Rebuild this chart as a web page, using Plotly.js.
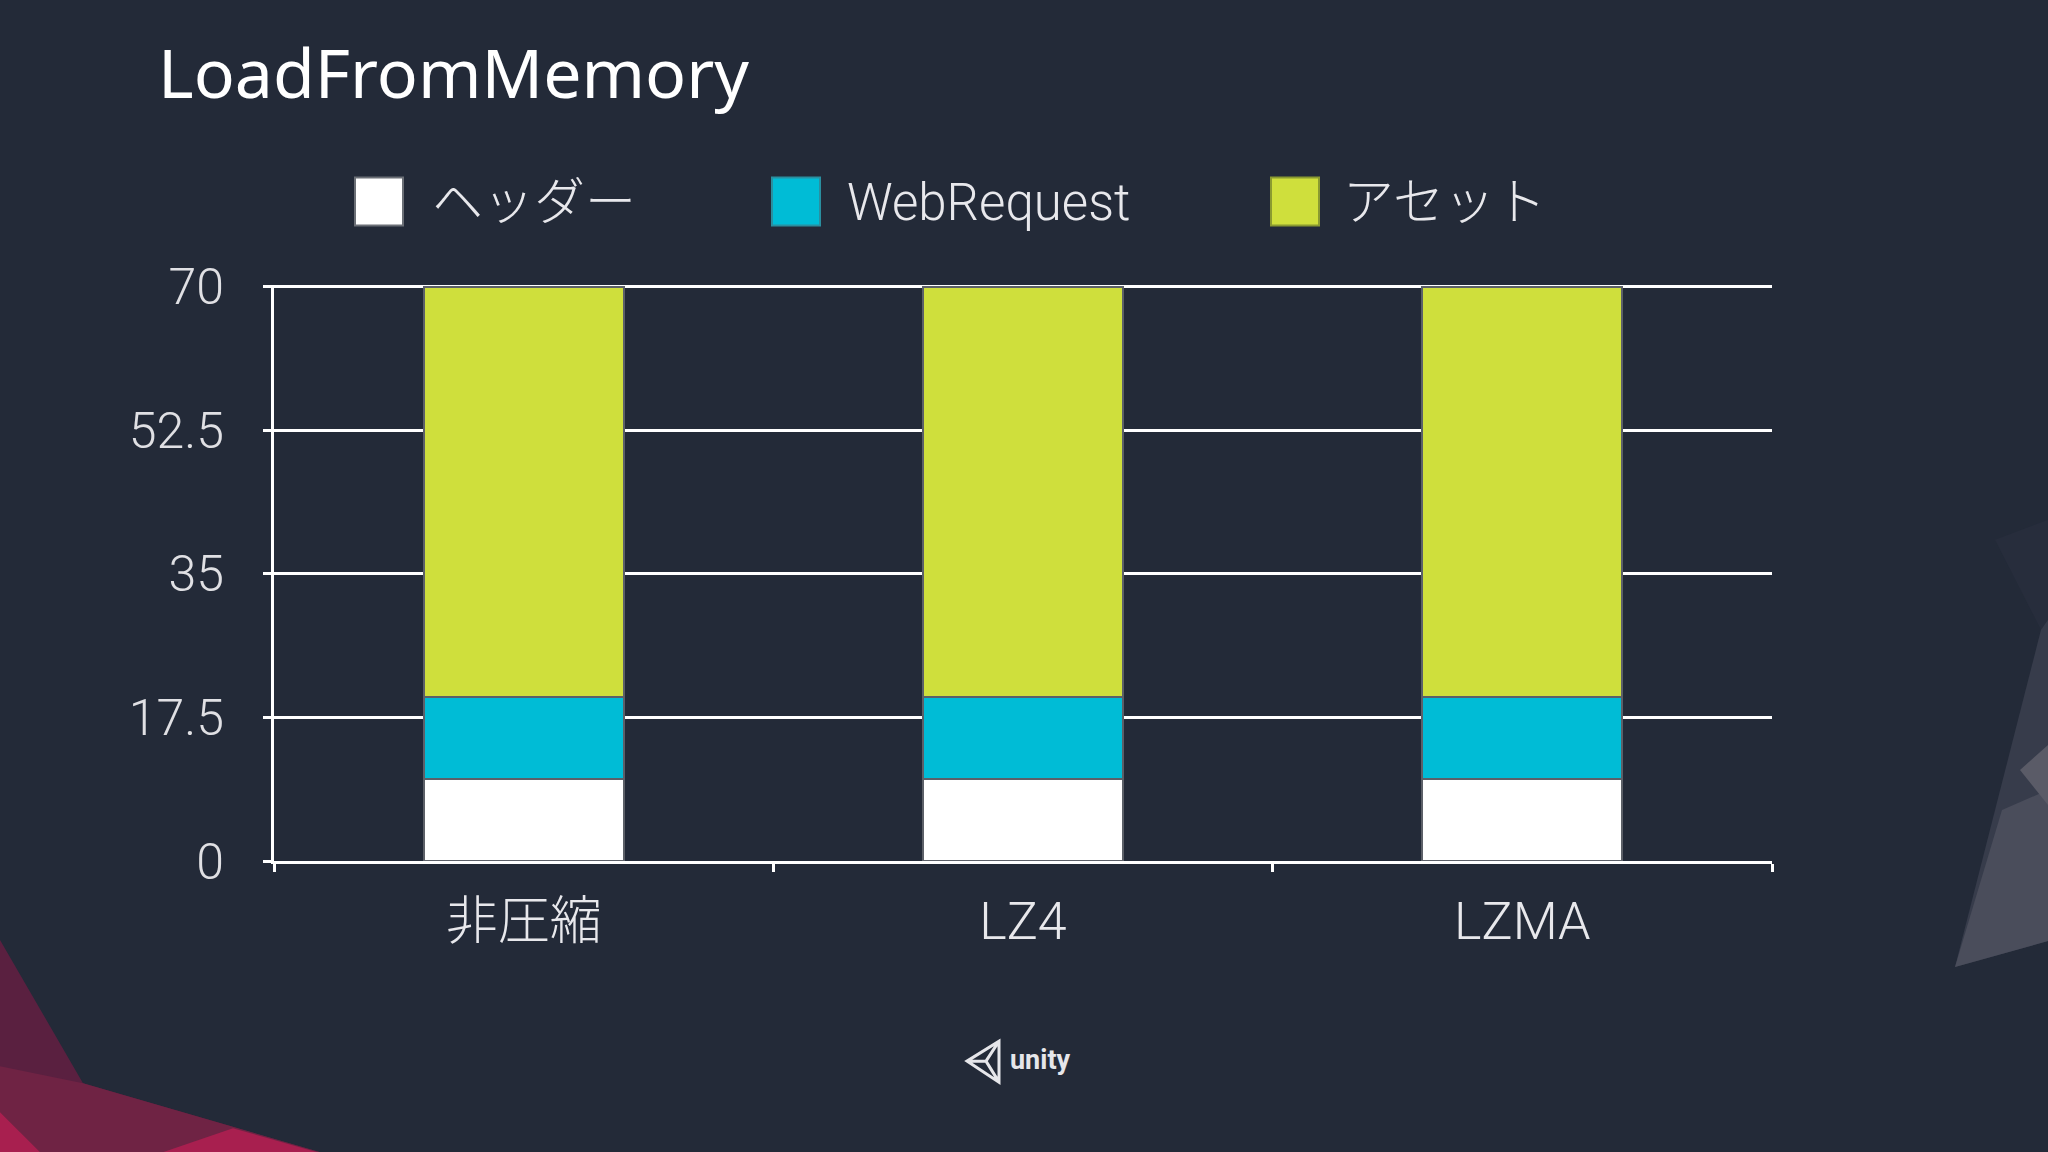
<!DOCTYPE html>
<html>
<head>
<meta charset="utf-8">
<script src="https://cdn.plot.ly/plotly-3.0.1.min.js"></script>
<style>
  html, body { margin: 0; padding: 0; background: #232a38; }
  #chart { width: 2048px; height: 1152px; }
</style>
</head>
<body>
<div id="chart"></div>
<script>
// ---- data ----
const categories = ['非圧縮', 'LZ4', 'LZMA'];
const seriesNames = ['ヘッダー', 'WebRequest', 'アセット'];
const headerValues = [10, 10, 10];
const webRequestValues = [10, 10, 10];
const assetValues = [50, 50, 50];
const yTickValues = [0, 17.5, 35, 52.5, 70];
const yTickLabels = ['0', '17.5', '35', '52.5', '70'];
const chartTitle = 'LoadFromMemory';

// ---- styles ----
const W = 2048, H = 1152;
const yTop = 70, yMax = 70.2;          // tiny headroom so the 70 gridline is drawn
const plotL = 274, plotR = 1772, plotB = 861;
const plotT = plotB - (plotB - 287) * yMax / yTop;
const bg = '#232a38';
const seriesColors = ['#ffffff', '#00bcd6', '#cfdf3c'];
const swatchBorders = ['#6b6f76', '#2a8fa0', '#8a9a30'];
const thinFont = 'Roboto, "Noto Sans CJK JP", sans-serif';

const px = x => (x - plotL) / (plotR - plotL);
const py = y => (plotB - y) / (plotB - plotT);

const seriesValues = [headerValues, webRequestValues, assetValues];
const traces = seriesNames.map((name, i) => ({
  type: 'bar',
  name: name,
  x: categories,
  y: seriesValues[i],
  marker: { color: seriesColors[i], line: { color: '#5c6068', width: 2 } },
  showlegend: false,
  hoverinfo: 'x+y+name'
}));

const shapes = [];
const annotations = [];

// background decorations
function poly(points, color) {
  const d = points.map((p, k) => (k ? 'L' : 'M') + px(p[0]) + ',' + py(p[1])).join(' ') + ' Z';
  shapes.push({ type: 'path', xref: 'paper', yref: 'paper', path: d, fillcolor: color, line: { width: 0 }, layer: 'below' });
}
poly([[0, 940], [83, 1083], [320, 1152], [0, 1152]], '#5a2040');
poly([[0, 1066], [83, 1083], [320, 1152], [0, 1152]], '#6f2344');
poly([[0, 1112], [40, 1152], [0, 1152]], '#a81f4f');
poly([[163, 1152], [233, 1128], [317, 1152]], '#a81f4f');
poly([[2041, 630], [1995, 540], [2048, 520], [2048, 620]], '#272d3c');
poly([[1955, 967], [2041, 630], [2048, 620], [2048, 941]], '#373c4b');
poly([[1955, 967], [2002, 810], [2048, 790], [2048, 941]], '#4a4d5b');
poly([[2020, 770], [2048, 745], [2048, 805]], '#5a5b67');

// custom legend with large square swatches
const legendSwatchX = [355, 772, 1271];
const legendTextX = [430, 845, 1341];
seriesNames.forEach((name, i) => {
  shapes.push({
    type: 'rect', xref: 'paper', yref: 'paper',
    x0: px(legendSwatchX[i]), x1: px(legendSwatchX[i] + 48),
    y0: py(226), y1: py(178),
    fillcolor: seriesColors[i], line: { color: swatchBorders[i], width: 2 }
  });
  annotations.push({
    xref: 'paper', yref: 'paper', x: px(legendTextX[i]), y: py(203),
    xanchor: 'left', yanchor: 'middle', showarrow: false, text: name,
    font: { family: thinFont, size: 51, color: '#e8e8ec', weight: 300 }
  });
});

// unity logo
annotations.push({
  xref: 'paper', yref: 'paper', x: px(1008), y: py(1060),
  xanchor: 'left', yanchor: 'middle', showarrow: false, text: '<b>unity</b>',
  font: { family: 'Roboto, sans-serif', size: 27, color: '#e6e6ea' }
});
const logoPts = [[967, 1061], [999, 1041], [999, 1082]];
shapes.push({
  type: 'path', xref: 'paper', yref: 'paper',
  path: logoPts.map((p, k) => (k ? 'L' : 'M') + px(p[0]) + ',' + py(p[1])).join(' ') + ' Z' +
        logoPts.map(p => ' M' + px(986) + ',' + py(1061) + ' L' + px(p[0]) + ',' + py(p[1])).join(''),
  line: { color: '#e6e6ea', width: 3 }, fillcolor: 'rgba(0,0,0,0)'
});

const layout = {
  width: W, height: H,
  paper_bgcolor: bg, plot_bgcolor: bg,
  margin: { l: plotL, r: W - plotR, t: plotT, b: H - plotB, pad: 0 },
  barmode: 'stack',
  bargap: 0.6,
  showlegend: false,
  title: {
    text: chartTitle,
    font: { family: '"Noto Sans", sans-serif', size: 68, color: '#ffffff' },
    xref: 'container', yref: 'container',
    x: 158 / W, xanchor: 'left',
    y: 1 - 74 / H, yanchor: 'middle'
  },
  xaxis: {
    type: 'category',
    tickson: 'boundaries',
    ticks: 'outside', ticklen: 8, tickwidth: 3, tickcolor: '#ffffff',
    showline: true, linecolor: '#ffffff', linewidth: 3,
    showgrid: false, zeroline: false,
    ticklabelstandoff: 13,
    tickfont: { family: thinFont, size: 52, color: '#e8e8ec', weight: 300 }
  },
  yaxis: {
    range: [0, yMax],
    tickmode: 'array', tickvals: yTickValues, ticktext: yTickLabels,
    ticks: 'outside', ticklen: 8, tickwidth: 3, tickcolor: '#ffffff',
    showline: true, linecolor: '#ffffff', linewidth: 3,
    showgrid: true, gridcolor: '#ffffff', gridwidth: 3,
    zeroline: false,
    ticklabelstandoff: 29,
    tickfont: { family: thinFont, size: 50, color: '#e0e0e4', weight: 300 }
  },
  shapes: shapes,
  annotations: annotations
};

Plotly.newPlot('chart', traces, layout, { staticPlot: true, displayModeBar: false });
</script>
</body>
</html>
